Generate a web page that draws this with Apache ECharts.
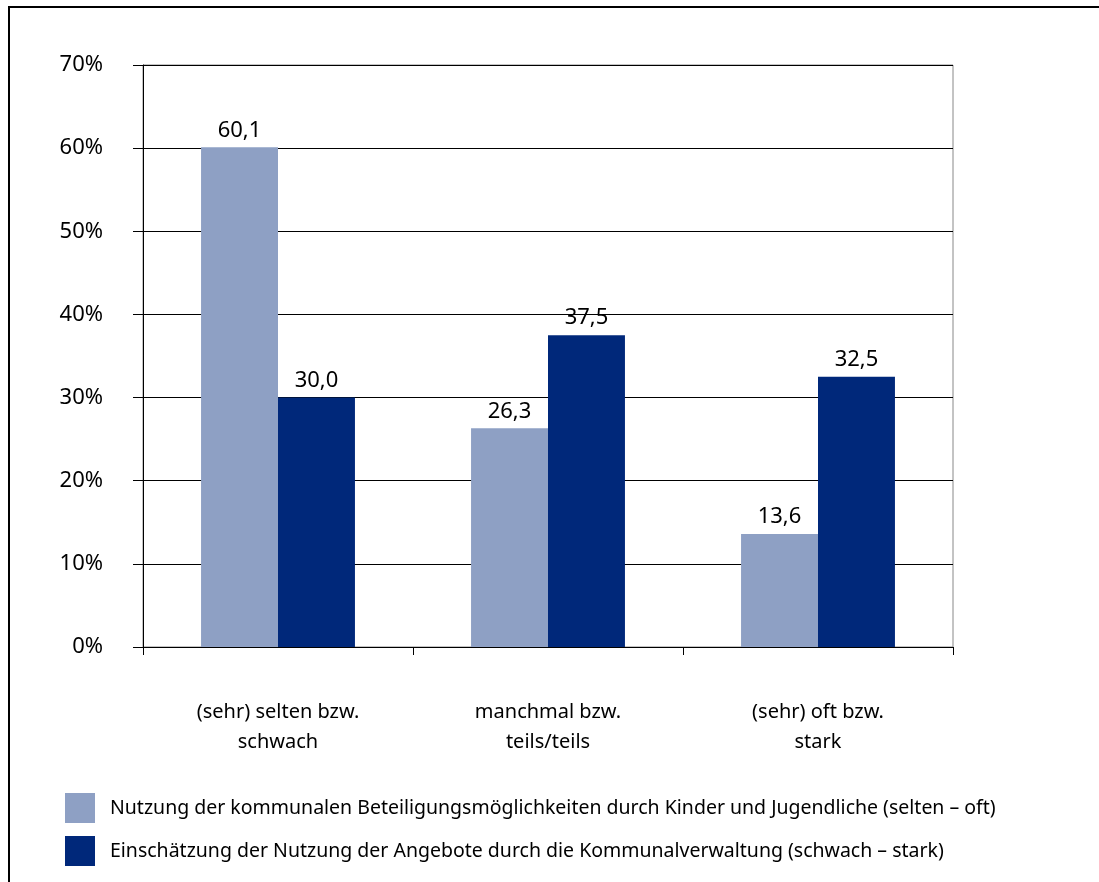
<!DOCTYPE html>
<html>
<head>
<meta charset="utf-8">
<script src="https://cdn.jsdelivr.net/npm/echarts@6/dist/echarts.min.js"></script>
<style>
  html, body { margin: 0; padding: 0; background: #fff; }
  #chart { width: 1099px; height: 882px; }
</style>
</head>
<body>
<div id="chart"></div>
<script>
const categories = ['(sehr) selten bzw.\nschwach', 'manchmal bzw.\nteils/teils', '(sehr) oft bzw.\nstark']
const nutzungKinder = [60.1, 26.3, 13.6]
const einschaetzungVerwaltung = [30.0, 37.5, 32.5]
const seriesNames = [
  'Nutzung der kommunalen Beteiligungsmöglichkeiten durch Kinder und Jugendliche (selten – oft)',
  'Einschätzung der Nutzung der Angebote durch die Kommunalverwaltung (schwach – stark)'
]

const font = '"Noto Sans", "Open Sans", sans-serif'
const colors = ['#8EA0C4', '#00287A']

// Zahlen mit Komma statt Punkt
const fmt = v => v.toFixed(1).replace('.', ',')

const barLabel = {
  show: true, position: 'top', distance: 6,
  color: '#000', fontSize: 22, fontFamily: font,
  formatter: p => fmt(p.value)
}

const chart = echarts.init(document.getElementById('chart'))
chart.setOption({
  animation: false,
  color: colors,
  textStyle: { fontFamily: font },
  graphic: [{
    type: 'rect',
    shape: { x: 9, y: 7, width: 1300, height: 1000 },
    style: { fill: 'none', stroke: '#000', lineWidth: 2 },
    silent: true
  }],
  grid: {
    left: 143, right: 146, top: 65, bottom: 235,
    show: true, borderColor: '#888', borderWidth: 1,
    containLabel: false
  },
  legend: {
    orient: 'vertical',
    left: 60, top: 788,
    itemWidth: 30, itemHeight: 30, itemGap: 13,
    icon: 'rect',
    data: seriesNames,
    textStyle: { fontSize: 19.5, color: '#000', fontFamily: font, padding: [0, 0, 0, 10] }
  },
  xAxis: {
    type: 'category',
    data: categories,
    axisLine: { lineStyle: { color: '#000', width: 1 } },
    axisTick: { show: true, length: 8, lineStyle: { color: '#000' } },
    axisLabel: {
      color: '#000', fontSize: 20, lineHeight: 30, margin: 50, fontFamily: font
    }
  },
  yAxis: {
    type: 'value',
    min: 0, max: 70, interval: 10,
    axisLine: { show: true, lineStyle: { color: '#000', width: 1 } },
    axisTick: { show: true, length: 10, lineStyle: { color: '#000' } },
    splitLine: { lineStyle: { color: '#000', width: 1 } },
    axisLabel: {
      formatter: '{value}%', color: '#000', fontSize: 22, margin: 40, fontFamily: font
    }
  },
  series: [
    {
      name: seriesNames[0],
      type: 'bar',
      data: nutzungKinder,
      barGap: 0,
      barCategoryGap: '43%',
      label: barLabel
    },
    {
      name: seriesNames[1],
      type: 'bar',
      data: einschaetzungVerwaltung,
      barGap: 0,
      barCategoryGap: '43%',
      label: barLabel
    }
  ]
})
</script>
</body>
</html>
